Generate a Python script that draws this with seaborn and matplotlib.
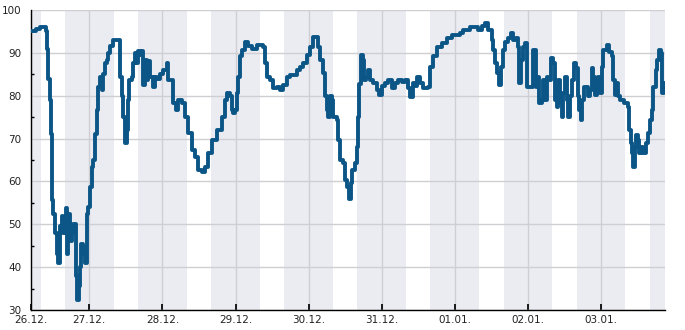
import matplotlib
matplotlib.use("Agg")
import matplotlib.pyplot as plt
import seaborn as sns
import pandas as pd
import numpy as np

# hours since 26.12. 00:00
hours = [4.76, 5.5, 6.5, 7.8, 9.1, 9.8, 10.1, 10.5, 11.1, 11.3, 11.7, 11.9, 12.2, 12.7, 13.3, 13.8,
         14.4, 14.9, 15.5, 16.3, 16.6, 17.1, 17.7, 18.2, 18.7, 19.3, 19.6, 20.1, 20.5, 20.9, 21.4,
         21.8, 22.3, 22.7, 23.1, 23.7, 24.2, 24.8, 25.3, 25.9, 26.4, 27.0, 27.5, 28.1, 28.6, 29.2,
         29.7, 30.2, 30.8, 31.8, 33.4, 34.1, 34.6, 35.2, 35.7, 36.3, 36.8, 37.1, 37.9, 38.4, 39.0,
         39.6, 40.1, 40.6, 41.2, 41.7, 42.3, 42.8, 43.4, 43.9, 45.0, 45.6, 46.1, 47.2, 48.3, 49.4,
         49.9, 51.1, 51.6, 52.4, 53.2, 54.3, 55.4, 56.5, 57.6, 58.7, 59.8, 60.9, 62.0, 63.1, 64.2,
         65.8, 67.5, 68.6, 69.1, 70.2, 70.8, 71.3, 71.8, 72.4, 72.9, 73.5, 74.0, 75.1, 76.2, 77.3,
         79.0, 80.6, 81.1, 81.7, 82.2, 83.3, 84.4, 85.5, 86.6, 87.7, 88.8, 89.9, 91.0, 92.1, 93.2,
         94.3, 95.4, 96.5, 97.3, 98.4, 99.2, 99.7, 100.6, 101.4, 101.9, 102.5, 103.0, 103.6, 104.1,
         105.2, 105.7, 106.3, 107.2, 107.9, 108.5, 109.3, 109.8, 110.3, 111.2, 111.8, 112.1, 112.5,
         113.2, 113.8, 114.2, 114.8, 115.6, 116.2, 117.2, 118.4, 119.2, 120.0, 121.1, 122.2, 123.3,
         124.4, 125.4, 126.6, 127.6, 128.7, 129.3, 130.2, 130.9, 131.7, 132.6, 133.7, 134.8, 135.3,
         135.8, 136.9, 138.1, 139.7, 141.3, 143.0, 145.7, 146.8, 149.0, 151.2, 151.7, 152.8, 153.9,
         155.0, 156.1, 156.6, 157.2, 158.0, 158.5, 159.1, 159.7, 160.5, 161.6, 162.4, 163.2, 164.0,
         164.6, 165.1, 165.6, 166.3, 167.0, 167.6, 168.7, 169.8, 170.3, 170.7, 171.2, 171.7, 172.5,
         173.1, 173.6, 174.2, 174.7, 175.5, 176.3, 176.9, 177.5, 178.0, 178.5, 179.1, 179.6, 180.2,
         180.7, 181.3, 181.8, 182.4, 183.1, 183.8, 184.3, 184.9, 185.4, 185.9, 186.4, 187.3, 187.8,
         188.4, 188.9, 189.5, 190.0, 190.6, 191.1, 191.7, 192.2, 192.8, 193.9, 194.6, 195.5, 196.0,
         196.6, 197.1, 197.7, 198.2, 199.1, 199.5, 200.4, 200.9, 201.3, 201.7, 202.2, 202.6, 203.2,
         203.5, 204.1, 204.6, 205.1, 205.9, 206.8, 207.5, 208.1, 208.6, 209.2, 210.1, 210.5, 211.1,
         211.7, 212.1, 212.6, 213.0]
values = [95, 95, 95.5, 96, 96, 95, 91, 84, 79, 71, 61, 55.7, 52.5, 48, 43, 41,
          49.5, 52, 48, 53.7, 43, 52.5, 46, 48, 50, 50, 38, 32.3, 35.5, 40, 45.5,
          43, 44.8, 41, 52.5, 54, 58.8, 63.4, 65, 71, 76.7, 82, 84.4, 81.3, 85, 87.7,
          88.4, 90, 91.6, 93, 93, 84.4, 80, 75, 68.9, 72, 79, 83.7, 84.4, 87.6, 90,
          87.6, 90.4, 89.5, 90.4, 82.5, 88.3, 83.7, 88, 84.4, 82, 84.4, 84, 85, 86, 87.6,
          83.7, 83.7, 78.2, 76.7, 79, 78.2, 75, 71.2, 67.3, 65.8, 62.7, 62.3, 63.4, 66.6, 69.7,
          72, 75, 79, 80.6, 80, 76.7, 75.9, 76.7, 80.6, 84.4, 89.2, 90.7, 92.6, 91.5, 91,
          91.8, 91.8, 91.4, 87.6, 84.4, 83.7, 81.7, 82, 81.3, 82.5, 84.4, 84.8, 84.8, 86, 86.8,
          87.6, 89.5, 91.4, 93.8, 93.8, 91.4, 88.4, 85.2, 80, 76.7, 75.1, 80, 79, 75.1,
          74.3, 69.7, 65, 64.2, 60.3, 58.8, 56, 59.6, 62.7, 64.2, 68, 75, 82.8,
          89.5, 88.3, 83.7, 84.4, 86, 83.7, 82.9, 81.3, 80.2, 82.2, 82.9, 83.7, 81.7,
          82.9, 83.7, 83.3, 83.7, 81.7, 79.8, 82.9, 82.2, 84.4, 82.9, 81.7, 81.7, 82.1,
          86.8, 89.2, 91.4, 92.2, 93.4, 94.2, 94.6, 95.3, 96.1, 96.1, 95.3, 96.3, 96.9,
          95.3, 93, 90.7, 87.6, 85.2, 82.5, 86.8, 90.7, 92.6, 93.4, 94.6, 93, 93.4,
          91.4, 82.9, 88.4, 91.4, 92.2, 82.1, 82.1, 90.7, 90.7, 82.1, 84.4, 78.2, 79,
          83.7, 79, 84.4, 83.7, 88.7, 87.6, 79, 77.4, 83.7, 78.2, 75.1, 80.6, 84.4,
          79, 75.1, 80, 83.7, 87.6, 86.5, 80, 76.7, 74.3, 79, 82.1, 82.1, 80,
          81.3, 86.4, 84.4, 80.2, 82.1, 84.4, 80.6, 86.8, 90.7, 91.8, 90.3, 89.2, 83.7,
          80.2, 82.9, 80, 79, 79, 78.2, 78.2, 77.4, 72, 68.9, 66.6, 63.4, 68.1,
          70.8, 69.7, 66.6, 68.1, 66.6, 68.9, 71.2, 74.3, 76.7, 82.1, 86, 88.3, 90.7,
          90, 80.6, 82.9, 82.5]

day_labels = ["26.12.", "27.12.", "28.12.", "29.12.", "30.12.", "31.12.", "01.01.", "02.01.", "03.01."]
x_start, x_end = 4.76, 213.0
night_start, night_end = 16, 32  # shaded from 16:00 to 08:00 next day

df = pd.DataFrame({"t": hours, "v": values})

sns.set_theme(style="white")
plt.rcParams['font.family'] = ['DejaVu Sans']

fig = plt.figure(figsize=(6.85, 3.3), dpi=100)
ax = fig.add_axes([30.7 / 685, 1 - 310 / 330, (665 - 30.7) / 685, 300 / 330])

band_color = "#eaecf2"
ax.axvspan(x_start, 8, color=band_color, lw=0, zorder=0)
for k in range(len(day_labels)):
    ax.axvspan(night_start + 24 * k, night_end + 24 * k, color=band_color, lw=0, zorder=0)

sns.lineplot(data=df, x="t", y="v", ax=ax, color="#0b5687", linewidth=2.8,
             drawstyle="steps-post", zorder=3, estimator=None)

ax.set_xlim(x_start, x_end)
ax.set_ylim(30, 100)
ticks = [x_start] + [24 * k for k in range(1, len(day_labels))]
ax.set_xticks(ticks)
ax.set_xticklabels(day_labels)
ax.set_yticks(range(30, 101, 10))
ax.set_yticks(range(35, 100, 10), minor=True)
ax.grid(True, which="major", color="#cfcfd3", linewidth=1, zorder=1)
ax.set_axisbelow(True)
ax.set_xlabel("")
ax.set_ylabel("")
for s in ["top", "right"]:
    ax.spines[s].set_visible(False)
for s in ["left", "bottom"]:
    ax.spines[s].set_color("black")
    ax.spines[s].set_linewidth(1)
ax.tick_params(axis="both", which="both", direction="in", color="black", labelsize=7.5,
               labelcolor="#222222")
ax.tick_params(axis="y", which="major", length=2.5, pad=6.5)
ax.tick_params(axis="y", which="minor", length=2.5, left=True)
ax.tick_params(axis="x", which="major", length=4, pad=3.6, bottom=True)

fig.savefig("out.png", dpi=100)
